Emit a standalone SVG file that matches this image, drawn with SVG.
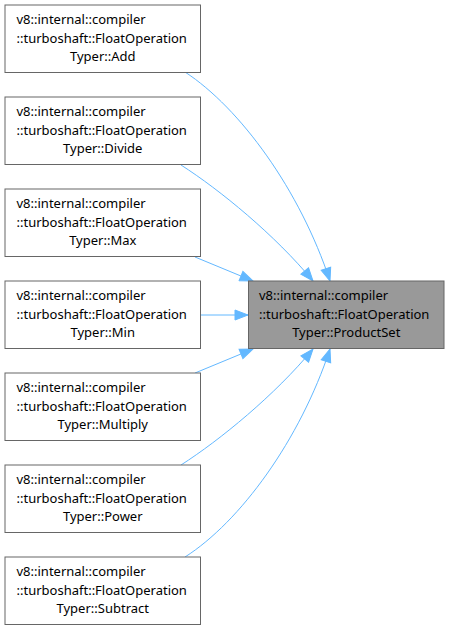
<svg xmlns="http://www.w3.org/2000/svg" width="449" height="630" viewBox="0 0 449 630">
<style>
.box{fill:#ffffff;stroke:#666666;stroke-width:1}
.target{fill:#999999;stroke:#666666;stroke-width:1}
text{font-family:"Noto Sans","Open Sans","DejaVu Sans",sans-serif;font-size:13px;fill:#000000}
.l{text-anchor:start}
.c{text-anchor:middle}
.edge{fill:none;stroke:#63b8ff;stroke-width:1}
</style>
<defs>
<marker id="arr" markerUnits="userSpaceOnUse" markerWidth="16" markerHeight="12" refX="14" refY="6" orient="auto" viewBox="0 0 16 12">
<path d="M1,1 L14,6 L1,11 z" fill="#63b8ff" stroke="#63b8ff" stroke-width="1"/>
</marker>
</defs>
<g id="edges">
<path class="edge" marker-end="url(#arr)" d="M185,72 C240,108 300,190 330,281"/>
<path class="edge" marker-end="url(#arr)" d="M181,165 C220,190 275,235 313,281"/>
<path class="edge" marker-end="url(#arr)" d="M195,257 L253,281"/>
<path class="edge" marker-end="url(#arr)" d="M200,315 L248,315"/>
<path class="edge" marker-end="url(#arr)" d="M195,373 L253,349"/>
<path class="edge" marker-end="url(#arr)" d="M181,465 C220,440 275,395 313,349"/>
<path class="edge" marker-end="url(#arr)" d="M185,557 C240,522 300,440 330,349"/>
</g>
<g id="node-add">
<rect class="box" x="5" y="5" width="195.5" height="67.5"/>
<text class="l" x="16.5" y="24">v8::internal::compiler</text>
<text class="l" x="16.5" y="42.5">::turboshaft::FloatOperation</text>
<text class="c" x="102.75" y="61">Typer::Add</text>
</g>
<g id="node-divide">
<rect class="box" x="5" y="97" width="195.5" height="67.5"/>
<text class="l" x="16.5" y="116">v8::internal::compiler</text>
<text class="l" x="16.5" y="134.5">::turboshaft::FloatOperation</text>
<text class="c" x="102.75" y="153">Typer::Divide</text>
</g>
<g id="node-max">
<rect class="box" x="5" y="189" width="195.5" height="67.5"/>
<text class="l" x="16.5" y="208">v8::internal::compiler</text>
<text class="l" x="16.5" y="226.5">::turboshaft::FloatOperation</text>
<text class="c" x="102.75" y="245">Typer::Max</text>
</g>
<g id="node-min">
<rect class="box" x="5" y="281" width="195.5" height="67.5"/>
<text class="l" x="16.5" y="300">v8::internal::compiler</text>
<text class="l" x="16.5" y="318.5">::turboshaft::FloatOperation</text>
<text class="c" x="102.75" y="337">Typer::Min</text>
</g>
<g id="node-multiply">
<rect class="box" x="5" y="373" width="195.5" height="67.5"/>
<text class="l" x="16.5" y="392">v8::internal::compiler</text>
<text class="l" x="16.5" y="410.5">::turboshaft::FloatOperation</text>
<text class="c" x="102.75" y="429">Typer::Multiply</text>
</g>
<g id="node-power">
<rect class="box" x="5" y="465" width="195.5" height="67.5"/>
<text class="l" x="16.5" y="484">v8::internal::compiler</text>
<text class="l" x="16.5" y="502.5">::turboshaft::FloatOperation</text>
<text class="c" x="102.75" y="521">Typer::Power</text>
</g>
<g id="node-subtract">
<rect class="box" x="5" y="557" width="195.5" height="67.5"/>
<text class="l" x="16.5" y="576">v8::internal::compiler</text>
<text class="l" x="16.5" y="594.5">::turboshaft::FloatOperation</text>
<text class="c" x="102.75" y="613">Typer::Subtract</text>
</g>
<g id="node-productset">
<rect class="target" x="248.5" y="281" width="195.5" height="67.5"/>
<text class="l" x="259" y="300">v8::internal::compiler</text>
<text class="l" x="259" y="318.5">::turboshaft::FloatOperation</text>
<text class="c" x="346.25" y="337">Typer::ProductSet</text>
</g>
</svg>
